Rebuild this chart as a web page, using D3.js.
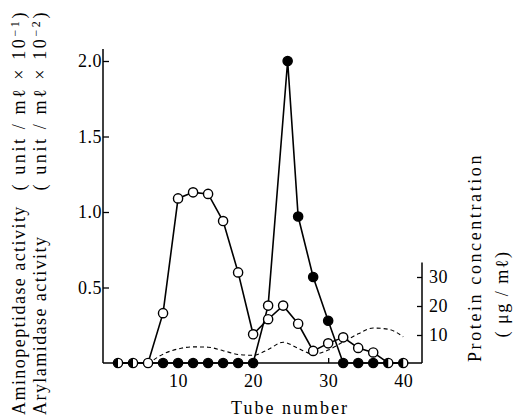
<!DOCTYPE html>
<html>
<head>
<meta charset="utf-8">
<script src="https://cdn.jsdelivr.net/npm/d3@7"></script>
<style>
    body { margin: 0; background: #fff; }
    svg { display: block; font-family: "Liberation Serif", "DejaVu Serif", serif; }
</style>
</head>
<body>
<div id="chart"></div>
<script>
// Open circles (left axis)
const openTubes = [2, 4, 6, 8, 10, 12, 14, 16, 18, 20, 22, 24, 26, 28, 30, 32, 34, 36, 38, 40];
const openValues = [0, 0, 0, 0.33, 1.09, 1.13, 1.12, 0.94, 0.60, 0.19, 0.29, 0.38, 0.26, 0.08, 0.13, 0.17, 0.10, 0.07, 0, 0];

// Filled circles (left axis) - no filled mark is printed at tube 6
const filledTubes = [2, 4, 8, 10, 12, 14, 16, 18, 20, 22, 24.6, 26, 28, 30, 32, 34, 36, 38, 40];
const filledValues = [0, 0, 0, 0, 0, 0, 0, 0, 0, 0.38, 2.0, 0.97, 0.57, 0.28, 0, 0, 0, 0, 0];
// this point of the filled series is printed hollow in the original
const hollowFilledTubes = [22];

// Protein concentration, dashed (right axis, ug/ml)
const proteinTubes = [6, 8, 10, 12, 14, 16, 18, 20, 22, 24, 26, 28, 30, 32, 34, 36, 38, 40];
const proteinValues = [0, 3.4, 5.2, 5.9, 5.8, 4.6, 3.3, 3.0, 5.0, 7.5, 5.4, 3.4, 4.8, 7.6, 10.4, 12.4, 12.0, 9.4];

const xTickValues = [10, 20, 30, 40];
const leftTickValues = [0.5, 1.0, 1.5, 2.0];
const rightTickValues = [10, 20, 30];

const width = 528, height = 419;
const serif = "'Liberation Serif', 'DejaVu Serif', serif";

const svg = d3.select("#chart").append("svg")
    .attr("width", width)
    .attr("height", height);

// Scales
const x = d3.scaleLinear().domain([0, 42.5]).range([103, 422]);
const yLeft = d3.scaleLinear().domain([0, 2]).range([363, 61]);
const yRight = d3.scaleLinear().domain([0, 30]).range([364, 277]);

// Axis lines
const axisLines = svg.append("g").attr("stroke", "#000").attr("stroke-width", 1.5).attr("fill", "none");
axisLines.append("line").attr("x1", x(0)).attr("x2", x(0)).attr("y1", yLeft(0)).attr("y2", yLeft(2.08));
axisLines.append("line").attr("x1", x(0)).attr("x2", x(42.5)).attr("y1", yLeft(0)).attr("y2", yLeft(0));
axisLines.append("line").attr("x1", x(42.5)).attr("x2", x(42.5)).attr("y1", yLeft(0)).attr("y2", yRight(35));

function styleAxis(g) {
    g.attr("font-family", serif).attr("font-size", 18);
    g.select(".domain").remove();
    g.selectAll("line").attr("stroke", "#000").attr("stroke-width", 1.3);
    g.selectAll("text")
        .attr("fill", "#000")
        .style("font-family", serif)
        .style("font-size", "18px")
        .style("letter-spacing", "0.5px");
}

svg.append("g")
    .attr("transform", "translate(" + x(0) + ",0)")
    .call(d3.axisLeft(yLeft).tickValues(leftTickValues).tickFormat(d3.format(".1f")).tickSize(-6).tickPadding(1))
    .call(styleAxis);

svg.append("g")
    .attr("transform", "translate(0," + yLeft(0) + ")")
    .call(d3.axisBottom(x).tickValues(xTickValues).tickSize(-5).tickPadding(11))
    .call(styleAxis);

svg.append("g")
    .attr("transform", "translate(" + x(42.5) + ",0)")
    .call(d3.axisRight(yRight).tickValues(rightTickValues).tickSize(-5).tickPadding(7))
    .call(styleAxis);

// Dashed protein curve
const proteinLine = d3.line()
    .x((d, i) => x(proteinTubes[i]))
    .y(d => yRight(d))
    .curve(d3.curveMonotoneX);

svg.append("path")
    .attr("d", proteinLine(proteinValues))
    .attr("fill", "none")
    .attr("stroke", "#000")
    .attr("stroke-width", 1.1)
    .attr("stroke-dasharray", "4,3");

// Solid activity lines
function activityLine(tubes) {
    return d3.line().x((d, i) => x(tubes[i])).y(d => yLeft(d));
}

svg.append("path")
    .attr("d", activityLine(openTubes)(openValues))
    .attr("fill", "none").attr("stroke", "#000").attr("stroke-width", 1.6);

svg.append("path")
    .attr("d", activityLine(filledTubes)(filledValues))
    .attr("fill", "none").attr("stroke", "#000").attr("stroke-width", 1.6);

// Markers
const r = 4.6;
const filledPts = filledTubes.map((t, i) => ({t: t, v: filledValues[i]}));
const openPts = openTubes.map((t, i) => ({t: t, v: openValues[i]}));
const shared = openPts.filter(p => filledPts.some(q => q.t === p.t && q.v === p.v));
const isShared = p => shared.some(q => q.t === p.t && q.v === p.v);

svg.append("g").selectAll("circle")
    .data(filledPts.filter(p => !isShared(p)))
    .enter().append("circle")
    .attr("cx", d => x(d.t))
    .attr("cy", d => yLeft(d.v))
    .attr("r", r)
    .attr("fill", d => hollowFilledTubes.includes(d.t) ? "#fff" : "#000")
    .attr("stroke", "#000")
    .attr("stroke-width", 1.4);

svg.append("g").selectAll("circle")
    .data(openPts.filter(p => !isShared(p)))
    .enter().append("circle")
    .attr("cx", d => x(d.t))
    .attr("cy", d => yLeft(d.v))
    .attr("r", r)
    .attr("fill", "#fff")
    .attr("stroke", "#000")
    .attr("stroke-width", 1.4);

// where both series sit on the same spot the marker is half black
const halves = svg.append("g").selectAll("g")
    .data(shared)
    .enter().append("g")
    .attr("transform", d => "translate(" + x(d.t) + "," + yLeft(d.v) + ")");

halves.append("circle")
    .attr("r", r)
    .attr("fill", "#fff")
    .attr("stroke", "#000")
    .attr("stroke-width", 1.4);

halves.append("path")
    .attr("d", "M0," + (-r) + " A" + r + "," + r + " 0 0 0 0," + r + " Z")
    .attr("fill", "#000");

// Axis titles
function vText(px, py, anchor, size, spacing) {
    return svg.append("text")
        .attr("transform", "translate(" + px + "," + py + ") rotate(-90)")
        .attr("text-anchor", anchor)
        .style("font-size", size)
        .style("letter-spacing", spacing);
}

vText(25, 415, "start", "18px", "1.45px").text("Aminopeptidase activity");
vText(46, 415, "start", "18px", "1.45px").text("Arylamidase activity");

const u1 = vText(25, 10, "end", "18px", "2.6px");
u1.append("tspan").text("( unit / mℓ × 10");
u1.append("tspan").attr("dy", -6).style("font-size", "12px").text("−1");
u1.append("tspan").attr("dy", 6).text(")");

const u2 = vText(46, 10, "end", "18px", "2.6px");
u2.append("tspan").text("( unit / mℓ × 10");
u2.append("tspan").attr("dy", -6).style("font-size", "12px").text("−2");
u2.append("tspan").attr("dy", 6).text(")");

vText(481, 362, "start", "18px", "2.6px").text("Protein concentration");
vText(508, 294, "middle", "18px", "1.5px").text("( μg / mℓ)");

svg.append("text")
    .attr("x", 290)
    .attr("y", 414)
    .attr("text-anchor", "middle")
    .style("font-size", "18px")
    .style("letter-spacing", "2px")
    .text("Tube number");
</script>
</body>
</html>
